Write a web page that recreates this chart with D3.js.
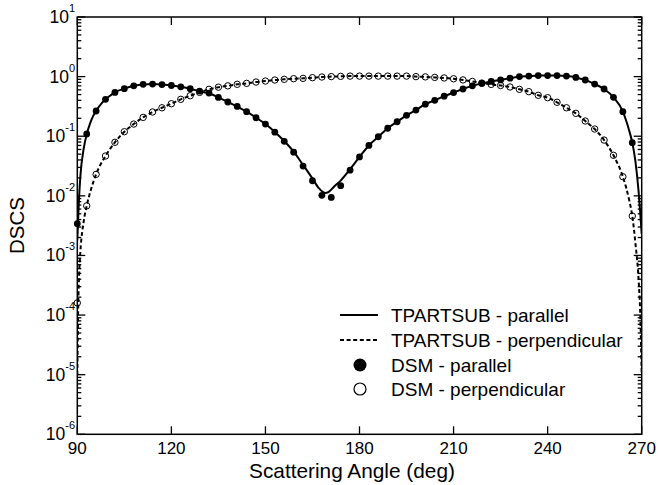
<!DOCTYPE html>
<html>
<head>
<meta charset="utf-8">
<script src="https://cdn.jsdelivr.net/npm/d3@7"></script>
<style>
  html, body { margin: 0; padding: 0; background: #fff; }
  svg { display: block; font-family: "Liberation Sans", Arial, Helvetica, sans-serif; }
</style>
</head>
<body>
<svg id="chart" width="658" height="485"></svg>
<script>
// ---- data ----
const xTicks = [90, 120, 150, 180, 210, 240, 270];
const yDecades = [-6, -5, -4, -3, -2, -1, 0, 1];

const dsmAngles = [90, 93, 96, 99, 102, 105, 108, 111, 114, 117, 120, 123, 126, 129, 132, 135, 138, 141, 144, 147,
  150, 153, 156, 159, 162, 165, 168, 171, 174, 177, 180, 183, 186, 189, 192, 195, 198, 201, 204, 207,
  210, 213, 216, 219, 222, 225, 228, 231, 234, 237, 240, 243, 246, 249, 252, 255, 258, 261, 264, 267];

const dsmParallel = [0.0034, 0.109, 0.265, 0.416, 0.544, 0.627, 0.70, 0.743, 0.75, 0.735, 0.71, 0.675, 0.627, 0.573, 0.53, 0.447, 0.375, 0.316, 0.258, 0.204,
  0.160, 0.117, 0.082, 0.054, 0.0316, 0.0179, 0.0102, 0.0094, 0.0148, 0.027, 0.045, 0.070, 0.098, 0.136, 0.175, 0.224, 0.275, 0.345, 0.40, 0.47,
  0.54, 0.62, 0.70, 0.77, 0.83, 0.88, 0.94, 1.0, 1.02, 1.04, 1.04, 1.04, 1.02, 0.97, 0.877, 0.75, 0.62, 0.45, 0.258, 0.078];

const dsmPerpendicular = [0.00016, 0.0068, 0.0229, 0.0466, 0.079, 0.119, 0.160, 0.207, 0.255, 0.30, 0.351, 0.416, 0.478, 0.544, 0.612, 0.665, 0.70, 0.743, 0.771, 0.811,
  0.843, 0.877, 0.90, 0.923, 0.935, 0.96, 0.985, 1.0, 1.01, 1.02, 1.02, 1.02, 1.02, 1.02, 1.02, 1.02, 1.0, 0.99, 0.97, 0.95,
  0.92, 0.88, 0.83, 0.78, 0.74, 0.71, 0.67, 0.612, 0.559, 0.486, 0.443, 0.371, 0.30, 0.242, 0.18, 0.132, 0.0863, 0.0479, 0.0209, 0.00458];

const parLineAngles = [90, 90.5, 91, 92, 93, 94, 95, 96, 98, 100, 102, 105, 108, 111, 114, 117, 120, 123, 126, 129, 132, 135, 138, 141, 144, 147,
  150, 153, 156, 159, 162, 165, 167, 169, 170, 172, 174, 177, 180, 183, 186, 189, 192, 195, 198, 201, 204, 207,
  210, 213, 216, 219, 222, 225, 228, 231, 234, 237, 240, 243, 246, 249, 252, 255, 258, 261, 264, 265, 266, 267, 268, 269, 269.5, 270];
const parLineValues = [0.0018, 0.008, 0.022, 0.06, 0.108, 0.16, 0.215, 0.265, 0.37, 0.46, 0.545, 0.63, 0.70, 0.74, 0.75, 0.74, 0.71, 0.675, 0.625, 0.57, 0.52, 0.45, 0.375, 0.315, 0.258, 0.205,
  0.160, 0.118, 0.083, 0.055, 0.033, 0.0195, 0.0135, 0.0112, 0.0115, 0.0145, 0.018, 0.028, 0.045, 0.070, 0.098, 0.136, 0.175, 0.224, 0.275, 0.345, 0.40, 0.47,
  0.54, 0.62, 0.70, 0.77, 0.83, 0.88, 0.94, 1.0, 1.02, 1.04, 1.04, 1.04, 1.02, 0.97, 0.877, 0.75, 0.62, 0.45, 0.258, 0.185, 0.125, 0.078, 0.038, 0.012, 0.0055, 0.0023];

const perpLineAngles = [90, 90.3, 90.6, 91, 92, 93, 94.5, 96, 99, 102, 105, 108, 111, 114, 117, 120, 123, 126, 129, 132, 135, 138, 141, 144, 147,
  150, 153, 156, 159, 162, 165, 168, 171, 174, 177, 180, 183, 186, 189, 192, 195, 198, 201, 204, 207,
  210, 213, 216, 219, 222, 225, 228, 231, 234, 237, 240, 243, 246, 249, 252, 255, 258, 261, 264, 265, 266, 267, 268, 269, 269.5, 270];
const perpLineValues = [0.00001, 0.00015, 0.0005, 0.0012, 0.0036, 0.0068, 0.0135, 0.023, 0.0466, 0.079, 0.119, 0.160, 0.207, 0.255, 0.30, 0.351, 0.416, 0.478, 0.544, 0.612, 0.665, 0.70, 0.743, 0.771, 0.811,
  0.843, 0.877, 0.90, 0.923, 0.935, 0.96, 0.985, 1.0, 1.01, 1.02, 1.02, 1.02, 1.02, 1.02, 1.02, 1.02, 1.0, 0.99, 0.97, 0.95,
  0.92, 0.88, 0.83, 0.78, 0.74, 0.71, 0.67, 0.612, 0.559, 0.486, 0.443, 0.371, 0.30, 0.242, 0.18, 0.132, 0.0863, 0.0479, 0.0209, 0.014, 0.0085, 0.0046, 0.0016, 0.0004, 0.00012, 0.00001];

const legendLabels = ["TPARTSUB - parallel", "TPARTSUB - perpendicular", "DSM - parallel", "DSM - perpendicular"];
const xTitle = "Scattering Angle (deg)";
const yTitle = "DSCS";

// ---- layout ----
const svg = d3.select("#chart");
const plot = { left: 77.3, right: 641.7, top: 17, bottom: 434.3 };

const x = d3.scaleLinear().domain([90, 270]).range([plot.left, plot.right]);
const y = d3.scaleLog().domain([1e-6, 10]).range([plot.bottom, plot.top]);

const clipId = "plotclip";
svg.append("defs").append("clipPath").attr("id", clipId)
  .append("rect").attr("x", plot.left).attr("y", plot.top)
  .attr("width", plot.right - plot.left).attr("height", plot.bottom - plot.top);

// ---- ticks ----
const minorVals = [];
yDecades.slice(0, -1).forEach(d => { for (let m = 2; m <= 9; m++) minorVals.push(m * Math.pow(10, d)); });
const majorVals = yDecades.map(d => Math.pow(10, d));

const axes = svg.append("g").attr("stroke", "#000").attr("stroke-width", 1.3);

axes.selectAll(".ymaj").data(majorVals).join("line")
  .attr("x1", plot.left).attr("x2", plot.left + 8)
  .attr("y1", d => y(d)).attr("y2", d => y(d));
axes.selectAll(".ymin").data(minorVals).join("line")
  .attr("x1", plot.left).attr("x2", plot.left + 4)
  .attr("y1", d => y(d)).attr("y2", d => y(d));
axes.selectAll(".ymajR").data(majorVals).join("line")
  .attr("x1", plot.right).attr("x2", plot.right - 8)
  .attr("y1", d => y(d)).attr("y2", d => y(d));
axes.selectAll(".yminR").data(minorVals).join("line")
  .attr("x1", plot.right).attr("x2", plot.right - 4)
  .attr("y1", d => y(d)).attr("y2", d => y(d));
axes.selectAll(".xb").data(xTicks).join("line")
  .attr("x1", d => x(d)).attr("x2", d => x(d))
  .attr("y1", plot.bottom).attr("y2", plot.bottom - 8);
axes.selectAll(".xt").data(xTicks).join("line")
  .attr("x1", d => x(d)).attr("x2", d => x(d))
  .attr("y1", plot.top).attr("y2", plot.top + 8);

svg.append("rect")
  .attr("x", plot.left).attr("y", plot.top)
  .attr("width", plot.right - plot.left).attr("height", plot.bottom - plot.top)
  .attr("fill", "none").attr("stroke", "#000").attr("stroke-width", 1.5);

svg.append("g").selectAll("text").data(xTicks).join("text")
  .attr("x", d => x(d)).attr("y", 454)
  .attr("text-anchor", "middle").attr("font-size", 17).attr("fill", "#000")
  .text(d => d);

const yl = svg.append("g").selectAll("text").data(yDecades).join("text")
  .attr("x", 75).attr("y", d => y(Math.pow(10, d)) + 6)
  .attr("text-anchor", "end").attr("font-size", 17.5).attr("fill", "#000");
yl.append("tspan").text("10");
yl.append("tspan").attr("font-size", 11).attr("dy", -11).text(d => d);

svg.append("text").attr("x", 352).attr("y", 477.5)
  .attr("text-anchor", "middle").attr("font-size", 20.8).attr("fill", "#000").text(xTitle);
svg.append("text").attr("transform", "translate(24,225.5) rotate(-90)")
  .attr("text-anchor", "middle").attr("font-size", 20.5).attr("fill", "#000").text(yTitle);

// ---- data marks ----
const g = svg.append("g").attr("clip-path", `url(#${clipId})`);
const line = d3.line().x(d => x(d[0])).y(d => y(d[1])).curve(d3.curveMonotoneX);

g.append("path").datum(d3.zip(perpLineAngles, perpLineValues))
  .attr("d", line).attr("fill", "none").attr("stroke", "#000")
  .attr("stroke-width", 2).attr("stroke-dasharray", "4,2.6");
g.append("path").datum(d3.zip(parLineAngles, parLineValues))
  .attr("d", line).attr("fill", "none").attr("stroke", "#000").attr("stroke-width", 2);

const mk = svg.append("g");
mk.selectAll(".par").data(d3.zip(dsmAngles, dsmParallel)).join("circle")
  .attr("cx", d => x(d[0])).attr("cy", d => y(d[1])).attr("r", 3.4).attr("fill", "#000");
mk.selectAll(".perp").data(d3.zip(dsmAngles, dsmPerpendicular)).join("circle")
  .attr("cx", d => x(d[0])).attr("cy", d => y(d[1])).attr("r", 3.2)
  .attr("fill", "none").attr("stroke", "#000").attr("stroke-width", 1);

// ---- legend ----
const lg = svg.append("g");
const rowY = [315, 340, 365, 389];
lg.append("line").attr("x1", 340).attr("x2", 378).attr("y1", rowY[0]).attr("y2", rowY[0])
  .attr("stroke", "#000").attr("stroke-width", 2);
lg.append("line").attr("x1", 340).attr("x2", 378).attr("y1", rowY[1]).attr("y2", rowY[1])
  .attr("stroke", "#000").attr("stroke-width", 2).attr("stroke-dasharray", "4,2.6");
lg.append("circle").attr("cx", 360).attr("cy", rowY[2]).attr("r", 6.5).attr("fill", "#000");
lg.append("circle").attr("cx", 360).attr("cy", rowY[3]).attr("r", 6).attr("fill", "#fff")
  .attr("stroke", "#000").attr("stroke-width", 1.2);
lg.selectAll("text").data(legendLabels).join("text")
  .attr("x", 391).attr("y", (d, i) => rowY[i] + 6.5)
  .attr("font-size", 19).attr("fill", "#000").text(d => d);
</script>
</body>
</html>
